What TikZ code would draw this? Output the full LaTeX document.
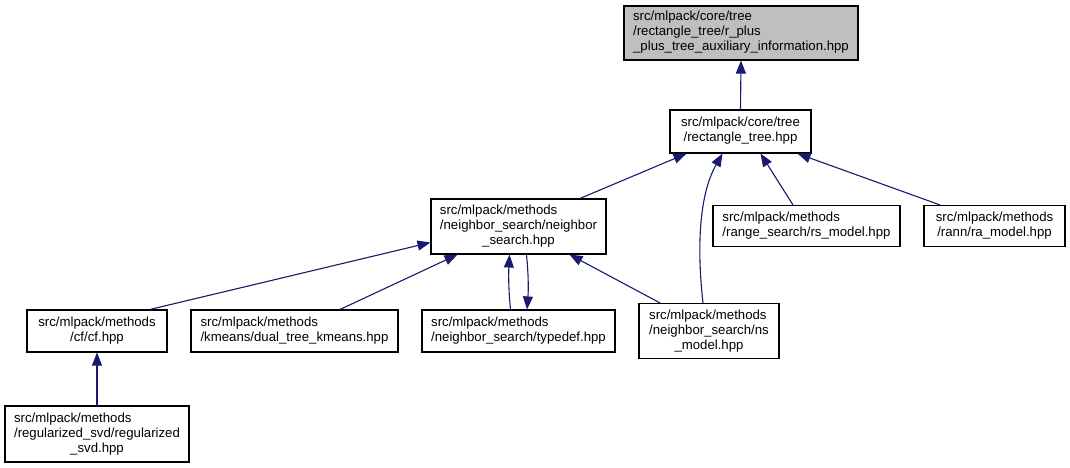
\documentclass[tikz,border=0pt]{standalone}
\usepackage{fontspec}
\setmainfont{Liberation Sans}
\usetikzlibrary{arrows.meta}
\definecolor{edgeblue}{HTML}{191970}
\definecolor{boxgray}{HTML}{BFBFBF}
\newcommand{\nlab}[2]{\begin{tabular}{@{}l@{}}#1\\\multicolumn{1}{@{}c@{}}{#2}\end{tabular}}
\begin{document}
\begin{tikzpicture}[x=1pt,y=-1pt,
  box/.style={draw=black,line width=1.1pt,fill=white,inner sep=0pt,
    font=\fontsize{13.2}{15}\selectfont},
  edge/.style={draw=edgeblue,line width=1.1pt,-{Triangle[length=13pt,width=10pt]}}]
\useasboundingbox[fill=white] (0,0) rectangle (1070,468);
\node[box,fill=boxgray,minimum width=234pt,minimum height=54pt] (A) at (741,33)
  {\nlab{src/mlpack/core/tree\\/rectangle\_tree/r\_plus}{\_plus\_tree\_auxiliary\_information.hpp}};
\node[box,minimum width=141pt,minimum height=43pt] (B) at (740.5,131.5)
  {\nlab{src/mlpack/core/tree}{/rectangle\_tree.hpp}};
\node[box,minimum width=175pt,minimum height=55pt] (C) at (518.5,226.5)
  {\nlab{src/mlpack/methods\\/neighbor\_search/neighbor}{\_search.hpp}};
\node[box,minimum width=187pt,minimum height=41pt] (D) at (806.5,226)
  {\nlab{src/mlpack/methods}{/range\_search/rs\_model.hpp}};
\node[box,minimum width=141pt,minimum height=41pt] (E) at (994.5,226)
  {\nlab{src/mlpack/methods}{/rann/ra\_model.hpp}};
\node[box,minimum width=140pt,minimum height=42pt] (F) at (97,331)
  {\nlab{src/mlpack/methods}{/cf/cf.hpp}};
\node[box,minimum width=207pt,minimum height=42pt] (G) at (294.5,331)
  {\nlab{src/mlpack/methods}{/kmeans/dual\_tree\_kmeans.hpp}};
\node[box,minimum width=193pt,minimum height=42pt] (H) at (518.5,331)
  {\nlab{src/mlpack/methods}{/neighbor\_search/typedef.hpp}};
\node[box,minimum width=140pt,minimum height=55pt] (I) at (709,331)
  {\nlab{src/mlpack/methods\\/neighbor\_search/ns}{\_model.hpp}};
\node[box,minimum width=184pt,minimum height=56pt] (J) at (97,434)
  {\nlab{src/mlpack/methods\\/regularized\_svd/regularized}{\_svd.hpp}};
% edges
\draw[edge] (B.north) -- (A.south);
\draw[edge] ([xshift=61.5pt]C.north) -- ([xshift=-54pt]B.south);
\draw[edge] ([xshift=-6pt]I.north) .. controls ([xshift=-12pt,yshift=53pt]I.north) and ([xshift=-42pt,yshift=-42pt]B.south) .. ([xshift=-18pt]B.south);
\draw[edge] ([xshift=-13.5pt]D.north) -- ([xshift=20pt]B.south);
\draw[edge] ([xshift=-54.5pt]E.north) -- ([xshift=57pt]B.south);
\draw[edge] ([xshift=53pt]F.north) -- ([yshift=-16pt]C.west);
\draw[edge] ([xshift=45.5pt]G.north) -- ([xshift=-61pt]C.south);
\draw[edge] ([xshift=-8pt]H.north) .. controls ([xshift=-10pt,yshift=20pt]H.north) and ([xshift=-10pt,yshift=-20pt]C.south) .. ([xshift=-9pt]C.south);
\draw[edge] ([xshift=8pt]C.south) .. controls ([xshift=10pt,yshift=-20pt]C.south) and ([xshift=10pt,yshift=20pt]H.north) .. ([xshift=8.5pt]H.north);
\draw[edge] ([xshift=-49pt]I.north) -- ([xshift=51pt]C.south);
\draw[edge] (J.north) -- (F.south);
\end{tikzpicture}
\end{document}
